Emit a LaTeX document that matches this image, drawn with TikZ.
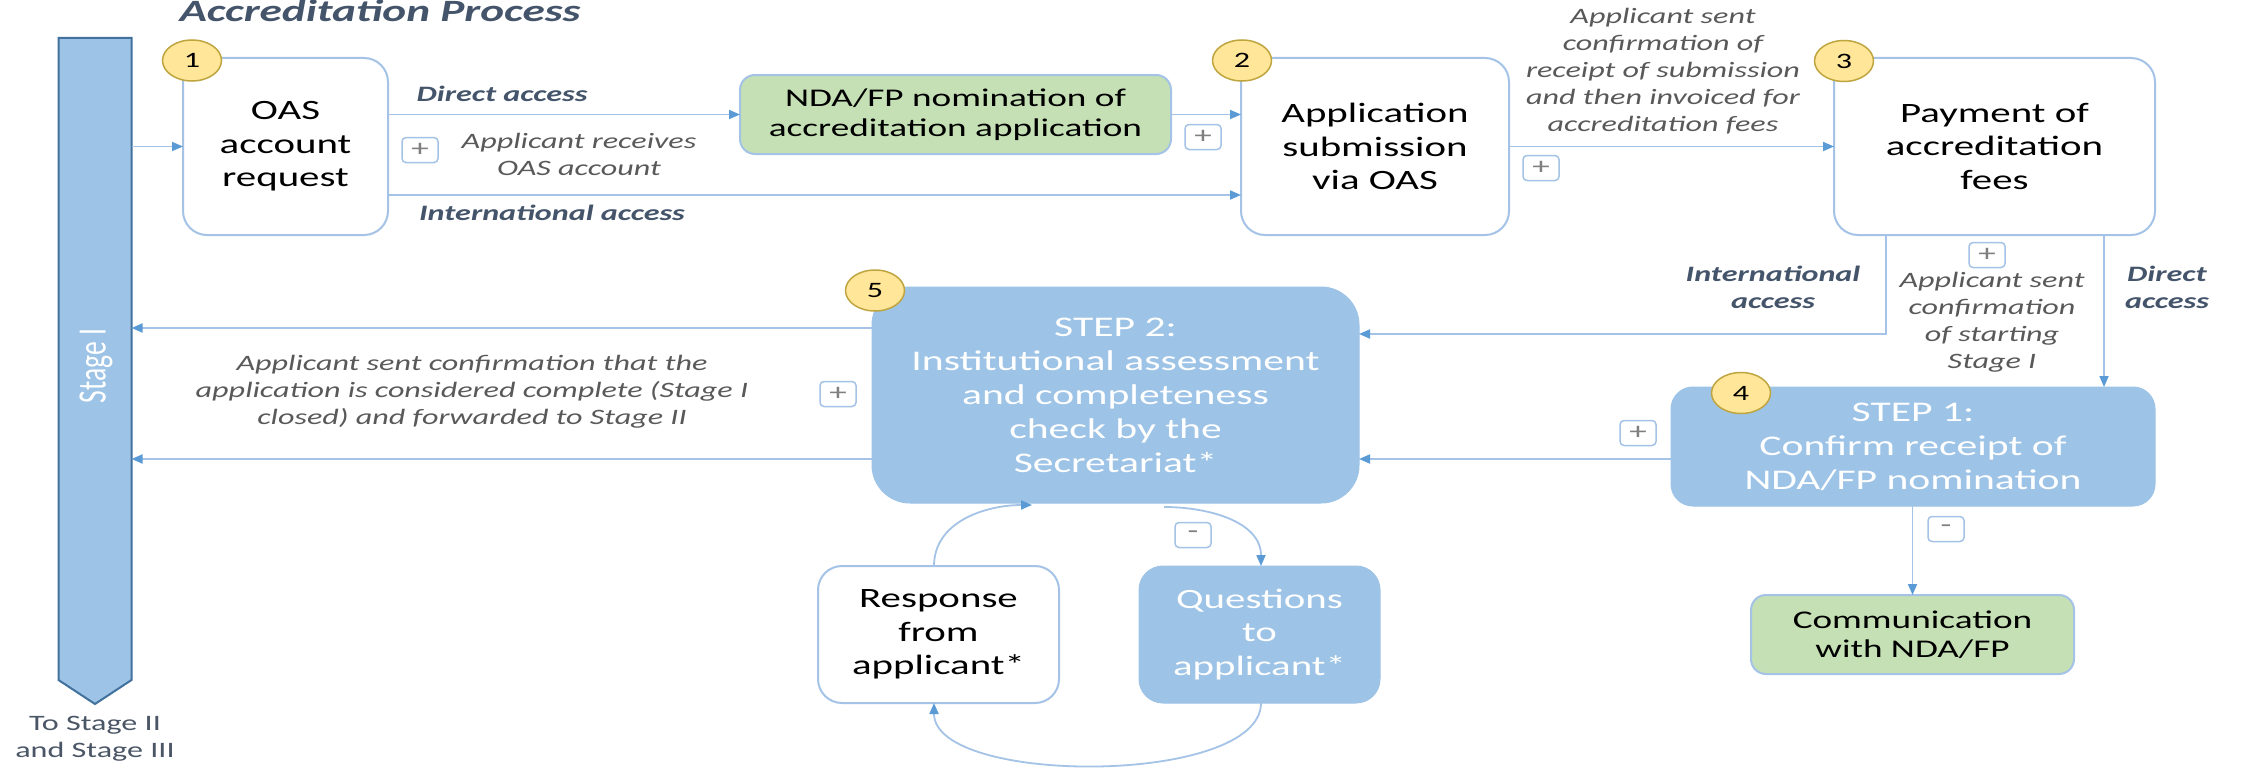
\documentclass[tikz,border=0pt]{standalone}
\usepackage{fontspec}
\setmainfont{Carlito}[FakeStretch=1.46]
\newfontfamily\plainfont{Carlito}
\usetikzlibrary{arrows.meta,shapes.geometric,calc}
\definecolor{lineblue}{HTML}{A4C3E6}
\definecolor{tipblue}{HTML}{5B9BD5}
\definecolor{stepblue}{HTML}{9DC3E6}
\definecolor{barborder}{HTML}{41719C}
\definecolor{greenfill}{HTML}{C5E0B4}
\definecolor{badgefill}{HTML}{FFE699}
\definecolor{badgeborder}{HTML}{BFA53F}
\definecolor{labelgrey}{HTML}{595959}
\definecolor{signgrey}{HTML}{7F7F7F}
\definecolor{slate}{HTML}{44546A}
\definecolor{darkgrey}{HTML}{4A5566}
\begin{document}
\begin{tikzpicture}[x=1pt,y=-1pt,
  every node/.style={inner sep=0pt, outer sep=0pt},
  bigtext/.style={font=\fontsize{28}{33.5}\selectfont},
  whitebox/.style={draw=lineblue, line width=2pt, fill=white, rounded corners=24pt, align=center, bigtext, text=black},
  greenbox/.style={draw=lineblue, line width=2pt, fill=greenfill, rounded corners=15pt, align=center, font=\fontsize{25.5}{29.5}\selectfont, text=black},
  stepbox/.style={draw=stepblue, line width=1pt, fill=stepblue, align=center, font=\fontsize{28.5}{34}\selectfont, text=white},
  badge/.style={ellipse, draw=badgeborder, line width=1.5pt, fill=badgefill, minimum width=59pt, minimum height=41pt, font=\fontsize{22}{26}\selectfont, text=black},
  signbox/.style={draw=lineblue, line width=1.5pt, fill=white, rounded corners=4pt, minimum width=36pt, minimum height=25pt, font=\fontsize{24}{24}\selectfont, text=signgrey},
  itlabel/.style={align=center, font=\fontsize{22}{27}\selectfont\itshape, text=labelgrey},
  bilabel/.style={align=center, font=\fontsize{22}{27}\selectfont\bfseries\itshape, text=slate},
  conn/.style={draw=lineblue, line width=1.8pt, -{Triangle[length=11pt,width=9pt,color=tipblue]}},
]
\useasboundingbox (0,0) rectangle (2242,768);
\fill[white] (0,0) rectangle (2242,768);

% title
\node[anchor=base, font=\fontsize{31}{36}\selectfont\bfseries\itshape, text=slate] (title) at (380,22) {Accreditation Process};

% stage bar
\node[minimum width=73pt, minimum height=642pt] (bar) at (95,359) {};
\draw[fill=stepblue, draw=barborder, line width=2pt] (bar.north west) -- (bar.north east) -- (bar.south east) -- ($(bar.south)+(0,24)$) -- (bar.south west) -- cycle;
\node[rotate=90, text=white, font=\plainfont\fontsize{27.6}{30}\selectfont] (stagelbl) at (96,366) {\scalebox{1}[1.46]{Stage I}};
\node[align=center, font=\fontsize{22}{27}\selectfont, text=darkgrey] (tostage) at (95,739) {To Stage II\\and Stage III};

% boxes
\node[whitebox, minimum width=205pt, minimum height=177pt] (box1) at (285.5,146.5) {OAS\\account\\request};
\node[whitebox, minimum width=268pt, minimum height=177pt] (box2) at (1375,146.5) {Application\\submission\\via OAS};
\node[whitebox, minimum width=321pt, minimum height=177pt] (box3) at (1994.5,146.5) {Payment of\\accreditation\\fees};
\node[greenbox, minimum width=431pt, minimum height=79pt] (nda) at (955.5,114.5) {NDA/FP nomination of\\accreditation application};
\node[stepbox, rounded corners=38pt, minimum width=487pt, minimum height=216pt] (step2) at (1115.5,395) {STEP 2:\\Institutional assessment\\and completeness\\check by the\\Secretariat*};
\node[stepbox, rounded corners=22pt, minimum width=484pt, minimum height=119pt] (step1) at (1913,446.5) {STEP 1:\\Confirm receipt of\\NDA/FP nomination};
\node[greenbox, minimum width=323pt, minimum height=79pt] (comm) at (1912.5,634.5) {Communication\\with NDA/FP};
\node[whitebox, minimum width=241pt, minimum height=137pt] (resp) at (938.5,634.5) {Response\\from\\applicant*};
\node[stepbox, rounded corners=24pt, minimum width=241pt, minimum height=137pt, font=\fontsize{28}{33.5}\selectfont] (ques) at (1259.5,634.5) {Questions\\to\\applicant*};

% badges
\node[badge] (b1) at (192,60.5) {1};
\node[badge] (b2) at (1242,60.5) {2};
\node[badge] (b3) at (1844,61) {3};
\node[badge] (b4) at (1741,393) {4};
\node[badge] (b5) at (875,290.5) {5};

% helper coordinates
\coordinate (intx) at (1886,334);
\coordinate (dirx) at (2104,0);
\coordinate (lowA) at (0,328);
\coordinate (lowB) at (0,459);
\coordinate (intl) at (0,195);
\coordinate (respup) at (934,0);
\coordinate (stepin) at (1032,0);
\coordinate (stepout) at (1164,0);
\coordinate (quesin) at (1261,0);

% connectors
\draw[conn] (bar.east |- box1.west) -- (box1.west);
\draw[conn] (box1.east |- nda.west) -- (nda.west);
\draw[conn] (nda.east) -- (box2.west |- nda.east);
\draw[conn] (box1.east |- intl) -- (box2.west |- intl);
\draw[conn] (box2.east) -- (box3.west);
\draw[conn] (box3.south -| intx) -- (intx) -- (intx -| step2.east);
\draw[conn] (box3.south -| dirx) -- (step1.north -| dirx);
\draw[conn] (step1.west |- lowB) -- (step2.east |- lowB);
\draw[conn] (step2.west |- lowA) -- (bar.east |- lowA);
\draw[conn] (step2.west |- lowB) -- (bar.east |- lowB);
\draw[conn] (step1.south -| comm.north) -- (comm.north);
\draw[conn] (resp.north -| respup) to[out=90,in=180] ([yshift=-2pt]step2.south -| stepin);
\draw[conn] ([yshift=-4pt]step2.south -| stepout) to[out=0,in=90] (ques.north -| quesin);
\draw[conn] (ques.south -| quesin) to[out=-90,in=-90,looseness=0.65] (resp.south -| respup);

% plus / minus boxes
\node[signbox] (p1) at (420,150) {+};
\node[signbox] (p2) at (1203,137) {+};
\node[signbox] (p3) at (1541,168) {+};
\node[signbox] (p4) at (1987,255) {+};
\node[signbox] (p5) at (838,394) {+};
\node[signbox] (p6) at (1638,433) {+};
\node[signbox] (m1) at (1193,535) {-};
\node[signbox] (m2) at (1946,529) {-};

% labels
\node[bilabel, anchor=base] (l1) at (502,101) {Direct access};
\node[itlabel] (l2) at (579,154) {Applicant receives\\OAS account};
\node[bilabel, anchor=base] (l3) at (552,220) {International access};
\node[itlabel] (l4) at (1663,71.5) {Applicant sent\\confirmation of\\receipt of submission\\and then invoiced for\\accreditation fees};
\node[bilabel] (l5) at (1773,287) {International\\access};
\node[itlabel] (l6) at (1992,322) {Applicant sent\\confirmation\\of starting\\Stage I};
\node[bilabel] (l7) at (2167,287) {Direct\\access};
\node[itlabel] (l8) at (472,391.5) {Applicant sent confirmation that the\\application is considered complete (Stage I\\closed) and forwarded to Stage II};
\end{tikzpicture}
\end{document}
